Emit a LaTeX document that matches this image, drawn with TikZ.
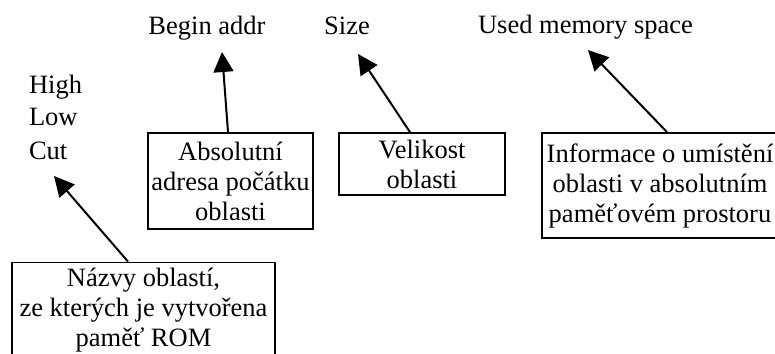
\documentclass[tikz,border=0pt]{standalone}
\usepackage{fontspec}
\setmainfont{Liberation Serif}
\usepackage{tikz}
\usetikzlibrary{arrows.meta}
\tikzset{
	lbl_n/.style = {inner sep=0pt, font=\fontsize{13.25}{15}\selectfont},
	box_n/.style = {lbl_n, rectangle, align=center, draw=black,
		line width=0.9pt}
}

\begin{document}
\begin{tikzpicture}[x=0.5pt,y=-0.5pt,->,>={Triangle[length=10pt,width=10pt]},
	line width=1pt]
\clip (0,0) rectangle (775,353);
\node [lbl_n, anchor=base] (begin) at (207,35) {Begin addr};
\node [lbl_n, anchor=base] (size) at (347,35) {Size};
\node [lbl_n, anchor=base] (used) at (585.5,34) {Used memory space};
\node [lbl_n, anchor=base west] (high) at (28,93) {High};
\node [lbl_n, anchor=base west] (low) at (28,126) {Low};
\node [lbl_n, anchor=base west] (cut) at (28,159) {Cut};
\node [box_n, minimum width=82.5pt, minimum height=48pt] (abs) at (230.5,181)
	{Absolutní\\adresa počátku\\oblasti};
\node [box_n, minimum width=83pt, minimum height=31pt] (vel) at (422,164)
	{Velikost\\oblasti};
\node [box_n, minimum width=118pt, minimum height=52.5pt] (inf) at (660,185.5)
	{Informace o umístění\\oblasti v absolutním\\paměťovém prostoru};
\node [box_n, minimum width=131.5pt, minimum height=47.5pt] (naz) at (143.5,310)
	{Názvy oblastí,\\ze kterých je vytvořena\\paměť ROM};
\draw ([xshift=-1.25pt]abs.north) -- ([xshift=7.5pt,yshift=-8.5pt]begin.base);
\draw ([xshift=-6pt]vel.north) -- ([xshift=5.5pt,yshift=-9.5pt]size.base);
\draw ([xshift=3.5pt]inf.north) -- ([xshift=1.25pt,yshift=-8pt]used.base);
\draw ([xshift=-7.75pt]naz.north) -- ([xshift=13pt,yshift=-8.5pt]cut.base west);
\end{tikzpicture}
\end{document}
